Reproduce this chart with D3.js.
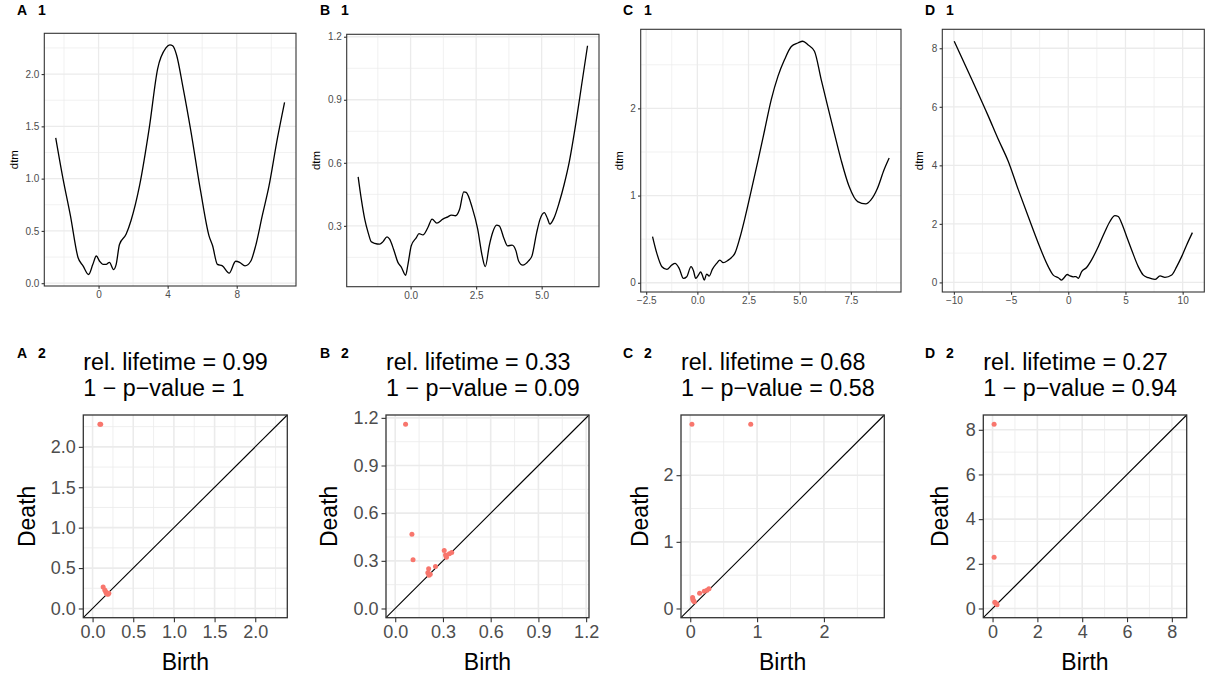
<!DOCTYPE html>
<html><head><meta charset="utf-8">
<script src="https://cdn.jsdelivr.net/npm/d3@7"></script>
<style>
body{margin:0;background:#fff}
svg{display:block}
text{font-family:"Liberation Sans",Arial,Helvetica,sans-serif}
</style>
</head><body>
<svg id="chart" width="1211" height="682"></svg>
<script>
// ---------------- DATA ----------------
const panelLetters = ["A","B","C","D"];

// distance-to-measure curves, [x, dtm]
const dtmA = [[-2.48,1.39],[-2.06,1.0],[-1.63,0.646],[-1.19,0.246],[-0.9,0.166],[-0.58,0.083],[-0.33,0.18],[-0.13,0.26],[0.06,0.21],[0.25,0.18],[0.44,0.18],[0.63,0.2],[0.87,0.13],[1.02,0.18],[1.21,0.37],[1.6,0.47],[1.88,0.6],[2.37,0.93],[2.94,1.49],[3.42,2.05],[3.9,2.25],[4.13,2.28],[4.29,2.27],[4.52,2.18],[4.87,1.89],[5.35,1.45],[5.92,0.87],[6.4,0.45],[6.6,0.36],[6.88,0.18],[7.17,0.166],[7.56,0.096],[7.94,0.21],[8.17,0.2],[8.48,0.166],[8.81,0.21],[9.1,0.36],[9.48,0.646],[9.87,0.93],[10.35,1.38],[10.77,1.73]];
const dtmB = [[-2.0,0.533],[-1.88,0.427],[-1.75,0.332],[-1.62,0.268],[-1.5,0.224],[-1.37,0.217],[-1.18,0.213],[-1.05,0.225],[-0.9,0.248],[-0.8,0.237],[-0.65,0.189],[-0.48,0.125],[-0.36,0.105],[-0.19,0.065],[-0.1,0.117],[0.025,0.205],[0.22,0.244],[0.32,0.263],[0.47,0.257],[0.66,0.292],[0.82,0.332],[1.0,0.313],[1.23,0.332],[1.42,0.343],[1.55,0.351],[1.71,0.348],[1.87,0.379],[2.03,0.462],[2.12,0.459],[2.35,0.387],[2.56,0.284],[2.73,0.157],[2.85,0.106],[3.0,0.205],[3.13,0.268],[3.28,0.303],[3.38,0.3],[3.57,0.237],[3.7,0.205],[3.87,0.208],[4.02,0.181],[4.12,0.133],[4.28,0.113],[4.5,0.133],[4.63,0.157],[4.81,0.268],[4.94,0.332],[5.1,0.363],[5.23,0.332],[5.31,0.308],[5.48,0.34],[5.67,0.411],[5.86,0.498],[6.05,0.602],[6.31,0.792],[6.53,0.975],[6.75,1.157]];
const dtmC = [[-2.19,0.529],[-1.98,0.337],[-1.73,0.184],[-1.49,0.153],[-1.25,0.203],[-1.09,0.222],[-0.89,0.165],[-0.68,0.05],[-0.52,0.069],[-0.31,0.184],[-0.19,0.138],[-0.08,0.05],[0.05,0.088],[0.16,0.126],[0.24,0.088],[0.34,0.031],[0.45,0.1],[0.58,0.077],[0.73,0.153],[0.94,0.222],[1.1,0.26],[1.26,0.23],[1.51,0.26],[1.67,0.29],[1.83,0.337],[2.07,0.51],[2.32,0.739],[2.64,1.065],[2.97,1.41],[3.29,1.755],[3.61,2.1],[3.94,2.37],[4.26,2.56],[4.59,2.71],[4.91,2.75],[5.15,2.77],[5.4,2.73],[5.72,2.655],[6.05,2.33],[6.37,2.02],[6.69,1.716],[7.02,1.41],[7.42,1.1],[7.83,0.93],[8.23,0.904],[8.48,0.95],[8.8,1.084],[9.12,1.295],[9.37,1.43]];
const dtmD = [[-9.97,8.24],[-8.45,6.95],[-7.0,5.69],[-6.12,4.89],[-5.25,4.14],[-4.37,3.17],[-3.5,2.25],[-2.62,1.34],[-1.75,0.54],[-1.31,0.25],[-0.87,0.16],[-0.58,0.08],[-0.35,0.17],[-0.09,0.27],[0.15,0.22],[0.44,0.19],[0.67,0.2],[0.87,0.14],[1.17,0.37],[1.6,0.51],[2.04,0.77],[2.62,1.22],[3.21,1.74],[3.64,2.08],[4.08,2.28],[4.37,2.25],[4.66,2.03],[5.1,1.57],[5.54,1.11],[6.12,0.54],[6.56,0.25],[7.0,0.16],[7.58,0.1],[8.02,0.22],[8.45,0.17],[9.04,0.25],[9.48,0.54],[9.91,0.88],[10.35,1.28],[10.85,1.7]];

// persistence diagrams, [birth, death]
const pdA = [[0.09,2.28],[0.1,2.28],[0.13,0.265],[0.15,0.23],[0.16,0.21],[0.17,0.19],[0.18,0.18],[0.19,0.175],[0.2,0.19]];
const pdB = [[0.065,1.16],[0.105,0.467],[0.112,0.307],[0.21,0.25],[0.205,0.225],[0.22,0.215],[0.212,0.21],[0.253,0.265],[0.308,0.365],[0.316,0.336],[0.322,0.322],[0.34,0.345],[0.355,0.352]];
const pdC = [[0.025,2.765],[0.905,2.765],[0.035,0.165],[0.04,0.14],[0.045,0.12],[0.06,0.1],[0.14,0.23],[0.21,0.26],[0.25,0.275],[0.28,0.295]];
const pdD = [[0.07,8.25],[0.07,2.29],[0.1,0.28],[0.15,0.22],[0.18,0.2],[0.2,0.17]];

const relLifetime = ["0.99","0.33","0.68","0.27"];
const pValue1m = ["1","0.09","0.58","0.94"];

// tick values / labels
const topXTicks = [[0,4,8],[0,2.5,5],[-2.5,0,2.5,5,7.5],[-10,-5,0,5,10]];
const topXLabels = [["0","4","8"],["0.0","2.5","5.0"],["\u22122.5","0.0","2.5","5.0","7.5"],["\u221210","\u22125","0","5","10"]];
const topYTicks = [[0,0.5,1,1.5,2],[0.3,0.6,0.9,1.2],[0,1,2],[0,2,4,6,8]];
const topYLabels = [["0.0","0.5","1.0","1.5","2.0"],["0.3","0.6","0.9","1.2"],["0","1","2"],["0","2","4","6","8"]];
const botTicks = [[0,0.5,1,1.5,2],[0,0.3,0.6,0.9,1.2],[0,1,2],[0,2,4,6,8]];
const botLabels = [["0.0","0.5","1.0","1.5","2.0"],["0.0","0.3","0.6","0.9","1.2"],["0","1","2"],["0","2","4","6","8"]];

// ---------------- LAYOUT ----------------
const topRects = [
  {x0:44.3, x1:296, y0:33.3, y1:286},
  {x0:346.7, x1:599, y0:34.3, y1:286.7},
  {x0:640.7, x1:901, y0:29.3, y1:292},
  {x0:942.3, x1:1204.3, y0:29.3, y1:292}
];
const botRects = [
  {x0:83.3, x1:287.3, y0:415, y1:617.7},
  {x0:386, x1:589, y0:415, y1:617.7},
  {x0:681, x1:884.3, y0:415, y1:617.7},
  {x0:983.3, x1:1186.7, y0:415, y1:617.7}
];
const letterX = [17, 320, 623, 925];
const dtmLabX = [18, 320, 623, 923];
const deathLabX = [35, 337, 648, 948];

const svg = d3.select("#chart");
svg.append("rect").attr("width",1211).attr("height",682).attr("fill","#fff");

const GRID = "#EBEBEB", BORDER = "#333333", TICKTXT = "#4D4D4D";

function expand(e, f){ const r = e[1]-e[0]; return [e[0]-f*r, e[1]+f*r]; }
function minors(ticks, dom){
  const step = ticks[1]-ticks[0], out = [];
  for (let v = ticks[0]-step/2; v <= dom[1]; v += step) if (v >= dom[0]) out.push(v);
  for (let v = ticks[0]-step*1.5; v >= dom[0]; v -= step) out.push(v);
  return out;
}

function drawGrid(g, x, y, xt, yt, wMaj, wMin){
  const xd = x.domain(), yd = y.domain();
  const [X0,X1] = x.range(), [Y1,Y0] = y.range();
  minors(xt, xd).forEach(v => g.append("line").attr("x1",x(v)).attr("x2",x(v)).attr("y1",Y0).attr("y2",Y1).attr("stroke",GRID).attr("stroke-width",wMin));
  minors(yt, yd).forEach(v => g.append("line").attr("y1",y(v)).attr("y2",y(v)).attr("x1",X0).attr("x2",X1).attr("stroke",GRID).attr("stroke-width",wMin));
  xt.forEach(v => g.append("line").attr("x1",x(v)).attr("x2",x(v)).attr("y1",Y0).attr("y2",Y1).attr("stroke",GRID).attr("stroke-width",wMaj));
  yt.forEach(v => g.append("line").attr("y1",y(v)).attr("y2",y(v)).attr("x1",X0).attr("x2",X1).attr("stroke",GRID).attr("stroke-width",wMaj));
}

function styleAxis(ax, fs){
  ax.select(".domain").remove();
  ax.selectAll(".tick line").attr("stroke",BORDER).attr("stroke-width",1.1);
  ax.selectAll(".tick text").attr("fill",TICKTXT).attr("font-size",fs).attr("font-family","'Liberation Sans',Arial,sans-serif");
}

function panelLabel(xp, yBase, letter, num){
  svg.append("text").attr("x",xp).attr("y",yBase).attr("font-weight","bold").attr("font-size",14).attr("fill","#000").text(letter);
  svg.append("text").attr("x",xp+21).attr("y",yBase).attr("font-weight","bold").attr("font-size",14).attr("fill","#000").text(num);
}

const dtms = [dtmA, dtmB, dtmC, dtmD];
const pds = [pdA, pdB, pdC, pdD];

// ---------------- TOP ROW ----------------
dtms.forEach((data, i) => {
  const r = topRects[i];
  const x = d3.scaleLinear().domain(expand(d3.extent(data, d=>d[0]), 0.05)).range([r.x0, r.x1]);
  const y = d3.scaleLinear().domain(expand(d3.extent(data, d=>d[1]), 0.05)).range([r.y1, r.y0]);
  const g = svg.append("g");
  drawGrid(g, x, y, topXTicks[i], topYTicks[i], 1.3, 0.7);
  g.append("path").datum(data)
    .attr("d", d3.line().x(d=>x(d[0])).y(d=>y(d[1])).curve(d3.curveMonotoneX))
    .attr("fill","none").attr("stroke","#000").attr("stroke-width",1.3);
  g.append("rect").attr("x",r.x0).attr("y",r.y0).attr("width",r.x1-r.x0).attr("height",r.y1-r.y0)
    .attr("fill","none").attr("stroke",BORDER).attr("stroke-width",1.1);
  const ax = svg.append("g").attr("transform",`translate(0,${r.y1})`)
    .call(d3.axisBottom(x).tickValues(topXTicks[i]).tickFormat((d,k)=>topXLabels[i][k]).tickSize(2.7).tickPadding(2.2));
  styleAxis(ax, 10);
  const ay = svg.append("g").attr("transform",`translate(${r.x0},0)`)
    .call(d3.axisLeft(y).tickValues(topYTicks[i]).tickFormat((d,k)=>topYLabels[i][k]).tickSize(2.7).tickPadding(2.2));
  styleAxis(ay, 10);
  svg.append("text").attr("transform",`translate(${dtmLabX[i]},${(r.y0+r.y1)/2}) rotate(-90)`)
    .attr("text-anchor","middle").attr("font-size",11.5).attr("fill","#000").text("dtm");
  panelLabel(letterX[i], 14.5, panelLetters[i], "1");
});

// ---------------- BOTTOM ROW ----------------
pds.forEach((data, i) => {
  const r = botRects[i];
  const maxD = d3.max(data, d=>d[1]);
  const dom = expand([0, maxD], 0.05);
  const x = d3.scaleLinear().domain(dom).range([r.x0, r.x1]);
  const y = d3.scaleLinear().domain(dom).range([r.y1, r.y0]);
  const g = svg.append("g");
  drawGrid(g, x, y, botTicks[i], botTicks[i], 1.6, 0.8);
  g.append("line").attr("x1",x(dom[0])).attr("y1",y(dom[0])).attr("x2",x(dom[1])).attr("y2",y(dom[1]))
    .attr("stroke","#000").attr("stroke-width",1.1);
  g.selectAll("circle").data(data).enter().append("circle")
    .attr("cx",d=>x(d[0])).attr("cy",d=>y(d[1])).attr("r",2.5).attr("fill","#F8766D");
  g.append("rect").attr("x",r.x0).attr("y",r.y0).attr("width",r.x1-r.x0).attr("height",r.y1-r.y0)
    .attr("fill","none").attr("stroke",BORDER).attr("stroke-width",1.3);
  const ax = svg.append("g").attr("transform",`translate(0,${r.y1})`)
    .call(d3.axisBottom(x).tickValues(botTicks[i]).tickFormat((d,k)=>botLabels[i][k]).tickSize(4.5).tickPadding(3));
  styleAxis(ax, 18);
  const ay = svg.append("g").attr("transform",`translate(${r.x0},0)`)
    .call(d3.axisLeft(y).tickValues(botTicks[i]).tickFormat((d,k)=>botLabels[i][k]).tickSize(4.5).tickPadding(3));
  styleAxis(ay, 18);
  svg.append("text").attr("x",(r.x0+r.x1)/2).attr("y",670).attr("text-anchor","middle")
    .attr("font-size",23).attr("fill","#000").text("Birth");
  svg.append("text").attr("transform",`translate(${deathLabX[i]},${(r.y0+r.y1)/2}) rotate(-90)`)
    .attr("text-anchor","middle").attr("font-size",23).attr("fill","#000").text("Death");
  svg.append("text").attr("x",r.x0).attr("y",370).attr("font-size",23.3).attr("fill","#000")
    .text("rel. lifetime = " + relLifetime[i]);
  svg.append("text").attr("x",r.x0).attr("y",396).attr("font-size",23.3).attr("fill","#000")
    .text("1 \u2212 p\u2212value = " + pValue1m[i]);
  panelLabel(letterX[i], 358, panelLetters[i], "2");
});
</script>
</body></html>
